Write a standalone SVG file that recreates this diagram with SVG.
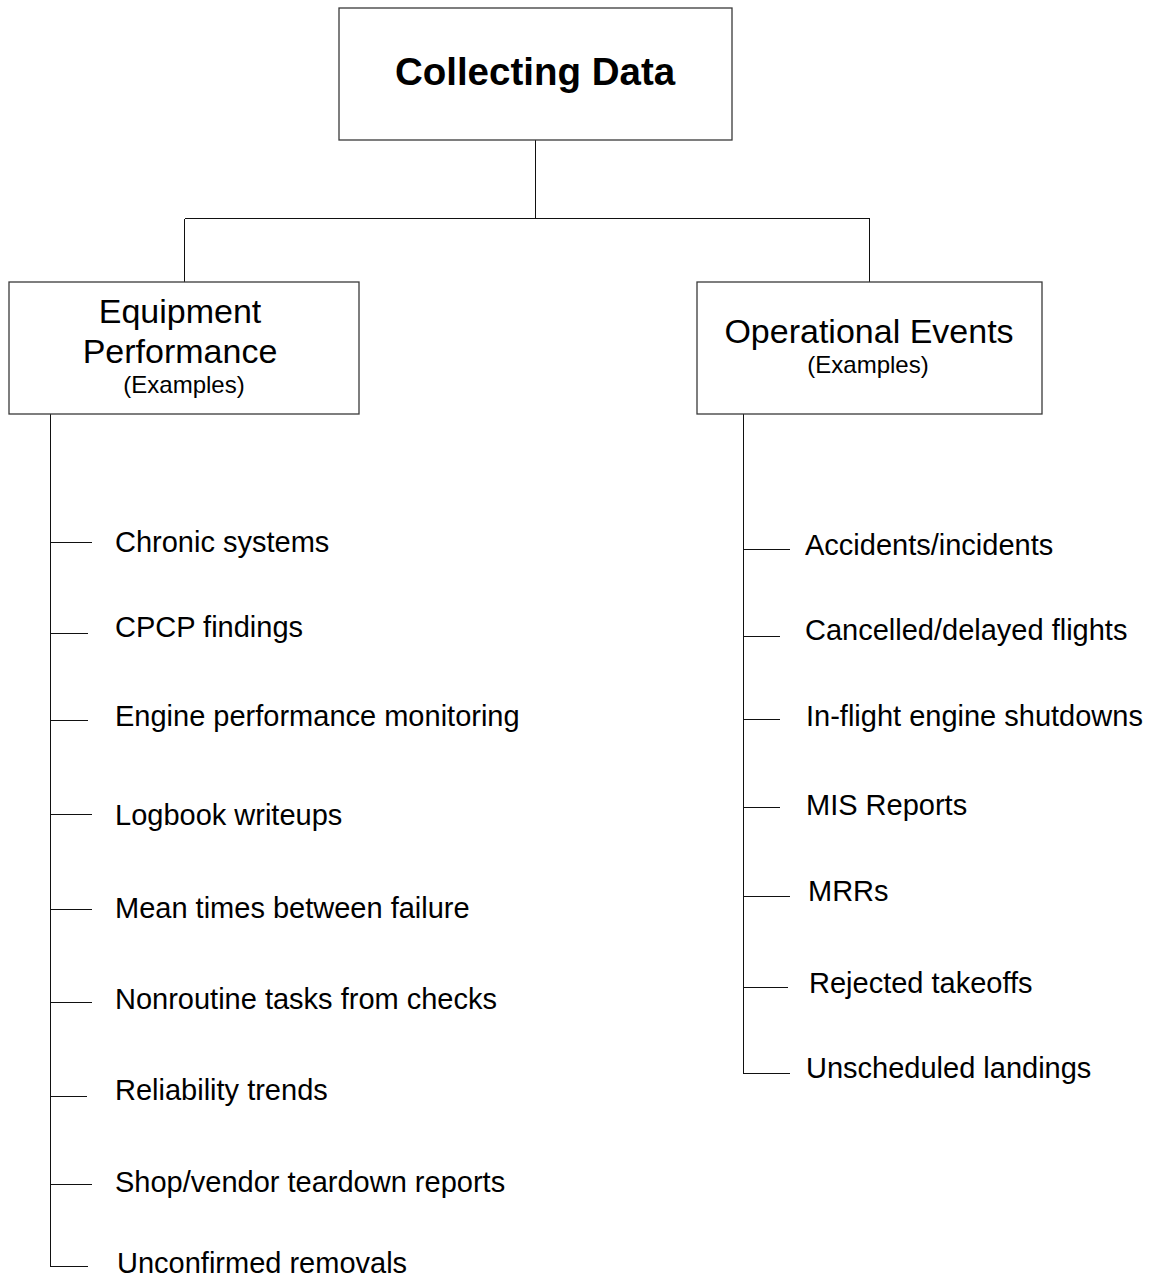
<svg xmlns="http://www.w3.org/2000/svg" width="1157" height="1279" viewBox="0 0 1157 1279">
<style>
.box{fill:#fff;stroke:#3a3a3a;stroke-width:1.3}
.ln{fill:none;stroke:#111;stroke-width:1;shape-rendering:crispEdges}
text{font-family:"Liberation Sans",Arial,sans-serif;fill:#000}
.title{font-size:38.5px;font-weight:bold;text-anchor:middle}
.hd{font-size:34px;text-anchor:middle}
.ex{font-size:24px;text-anchor:middle}
.it{font-size:29px}
</style>
<rect width="1157" height="1279" fill="#fff"/>
<g id="connectors">
<path class="ln" d="M535.5,140 V218.5 M184.5,218.5 H869.5 M184.5,218.5 V282 M869.5,218.5 V282"/>
<path class="ln" d="M50.5,414 V1266.5 H88"/>
<path class="ln" d="M50,542.5 H92 M50,633.5 H88 M50,720.5 H88 M50,814.5 H92 M50,909.5 H92 M50,1002.5 H92 M50,1096.5 H87 M50,1184.5 H92"/>
<path class="ln" d="M743.5,414 V1073.5 H790"/>
<path class="ln" d="M743,549.5 H790 M743,636.5 H780 M743,719.5 H780 M743,807.5 H780 M743,896.5 H790 M743,987.5 H788"/>
</g>
<g id="collecting-data">
<rect class="box" x="339" y="8" width="393" height="132"/>
<text class="title" x="535" y="85">Collecting Data</text>
</g>
<g id="equipment-performance">
<rect class="box" x="9" y="282" width="350" height="132"/>
<text class="hd" x="180" y="323">Equipment</text>
<text class="hd" x="180" y="363">Performance</text>
<text class="ex" x="184" y="393">(Examples)</text>
</g>
<g id="operational-events">
<rect class="box" x="697" y="282" width="345" height="132"/>
<text class="hd" x="869" y="343">Operational Events</text>
<text class="ex" x="868" y="373">(Examples)</text>
</g>
<g id="equipment-items">
<text class="it" x="115" y="552">Chronic systems</text>
<text class="it" x="115" y="637">CPCP findings</text>
<text class="it" x="115" y="726">Engine performance monitoring</text>
<text class="it" x="115" y="825">Logbook writeups</text>
<text class="it" x="115" y="918">Mean times between failure</text>
<text class="it" x="115" y="1009">Nonroutine tasks from checks</text>
<text class="it" x="115" y="1100">Reliability trends</text>
<text class="it" x="115" y="1192">Shop/vendor teardown reports</text>
<text class="it" x="117" y="1273">Unconfirmed removals</text>
</g>
<g id="operational-items">
<text class="it" x="805" y="555">Accidents/incidents</text>
<text class="it" x="805" y="640">Cancelled/delayed flights</text>
<text class="it" x="806" y="726">In-flight engine shutdowns</text>
<text class="it" x="806" y="815">MIS Reports</text>
<text class="it" x="808" y="901">MRRs</text>
<text class="it" x="809" y="993">Rejected takeoffs</text>
<text class="it" x="806" y="1078">Unscheduled landings</text>
</g>
</svg>
